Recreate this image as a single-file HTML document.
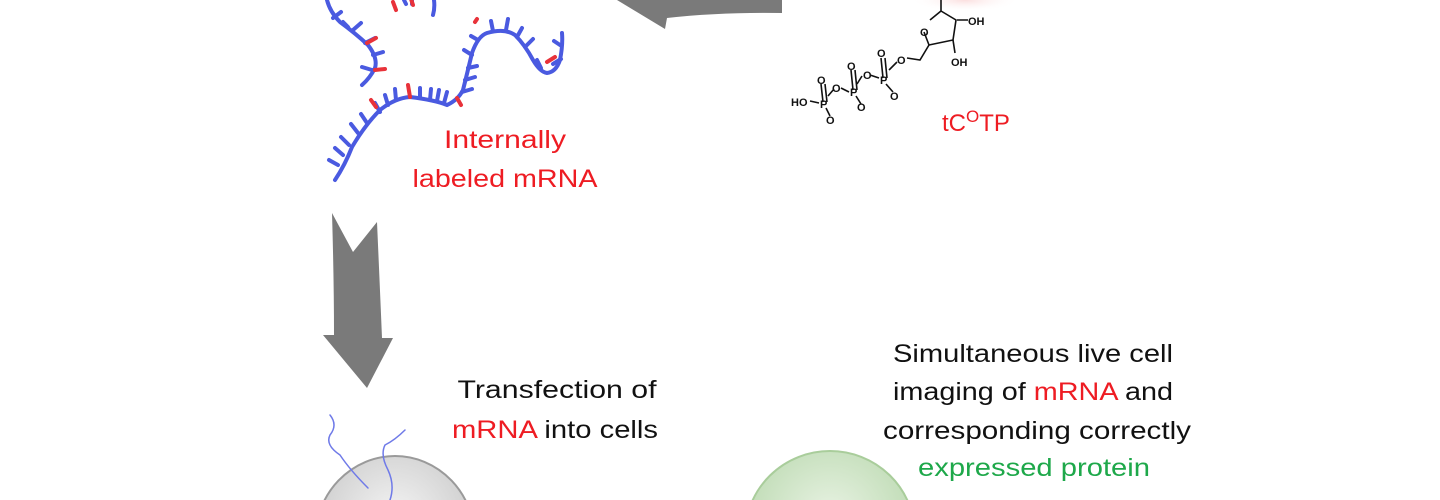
<!DOCTYPE html>
<html><head><meta charset="utf-8"><style>
html,body{margin:0;padding:0;background:#fff;width:1440px;height:500px;overflow:hidden}
svg{display:block}
text{font-family:"Liberation Sans",sans-serif}
</style></head><body>
<svg width="1440" height="500" viewBox="0 0 1440 500" xmlns="http://www.w3.org/2000/svg">
<defs>
<radialGradient id="gc" cx="50%" cy="40%" r="60%"><stop offset="0" stop-color="#e9f3e4"/><stop offset="1" stop-color="#b9d8ae"/></radialGradient>
<radialGradient id="wc" cx="50%" cy="40%" r="60%"><stop offset="0" stop-color="#f6f6f6"/><stop offset="1" stop-color="#c8c8c8"/></radialGradient>
<radialGradient id="pk" cx="50%" cy="50%" r="50%"><stop offset="0" stop-color="#fbdede"/><stop offset="1" stop-color="#fff" stop-opacity="0"/></radialGradient>
</defs>
<!-- top curved arrow -->
<path d="M617,0 L782,0 L782,13 Q720,12 667,18 L665,29 Z" fill="#7a7a7a"/>
<!-- down arrow -->
<path d="M332,213 L353,252 L377,222 Q380,290 382,338 L393,338 L367,388 L323,335 L334,335 Q334,280 332,213 Z" fill="#7a7a7a"/>
<!-- mRNA strand -->
<g stroke="#4a5ae0" stroke-width="4" fill="none" stroke-linecap="round">
<path d="M327,0 Q330,12 340,22 Q355,33 368,45 Q378,58 375,68 Q370,78 362,85"/>
<path d="M434,0 Q435,8 433,15"/>
<path d="M335,180 Q345,165 352,147 Q365,125 380,110 Q395,98 410,97 Q435,100 447,105 Q458,100 463,90 Q468,70 472,53 Q478,36 487,33 Q505,28 515,35 Q525,45 533,60 Q540,72 547,73 Q556,72 560,60 Q563,45 562,33"/>
<path d="M338,165 l-9,-5 M343,155 l-8,-7 M349,145 l-8,-8 M358,133 l-7,-9 M367,123 l-6,-9 M380,112 l-5,-9 M388,105 l-3,-10 M396,100 l-1,-11 M420,98 l0,-10 M430,100 l1,-11 M437,101 l2,-11 M444,103 l3,-11 M462,92 l10,-3 M465,80 l10,-3 M468,68 l9,-2 M472,55 l-8,-5 M478,40 l-7,-4 M493,31 l-2,-10 M506,30 l2,-11 M517,37 l5,-9 M525,47 l8,-8 M541,68 l-4,-8 M553,64 l8,-5 M560,45 l-6,-4 M333,18 l8,-6 M353,30 l8,-7 M365,43 l10,-5 M373,55 l10,-3 M372,70 l-10,-3 M348,27 l-5,-5"/>
<path d="M404,0 l2,4 M412,0 l0,4"/>
</g>
<g stroke="#e8323a" stroke-width="4" stroke-linecap="round">
<path d="M376,107 l-5,-7 M410,97 l-2,-12 M457,98 l4,7 M375,70 l10,-1 M367,43 l9,-5 M396,10 l-3,-8 M547,62 l8,-5 M475,22 l2,-3 M413,5 l-2,-6"/>
</g>
<text x="505" y="148" font-size="25" fill="#ee1c23" text-anchor="middle" textLength="122" lengthAdjust="spacingAndGlyphs">Internally</text>
<text x="505" y="187" font-size="25" fill="#ee1c23" text-anchor="middle" textLength="185" lengthAdjust="spacingAndGlyphs">labeled mRNA</text>
<!-- chemical -->
<ellipse cx="965" cy="0" rx="55" ry="12" fill="url(#pk)"/>
<g stroke="#111" stroke-width="1.6" fill="none">
<path d="M941,0 L941,11 M941,11 L956,20 L953,40 L929,45 L924,32 M941,11 L930,20"/>
<path d="M957,20 L968,20 M953,40 L955,53 M929,45 L920,60 L907,58"/>
<path d="M897,62 L889,70 M883,78 L881,58 M887,78 L885,58 M886,84 L893,92 M879,78 L870,75"/>
<path d="M862,76 L857,84 M853,90 L851,70 M857,90 L855,70 M856,96 L861,104 M849,92 L841,88"/>
<path d="M834,89 L828,96 M823,102 L821,84 M827,102 L825,84 M826,108 L830,116 M819,103 L810,101"/>
</g>
<g font-size="11" font-weight="bold" fill="#111">
<text x="968" y="25">OH</text><text x="951" y="66">OH</text><text x="920" y="36">O</text>
<text x="897" y="64">O</text><text x="880" y="84">P</text><text x="877" y="57">O</text><text x="890" y="100">O</text>
<text x="863" y="79">O</text><text x="850" y="96">P</text><text x="847" y="70">O</text><text x="857" y="111">O</text>
<text x="832" y="92">O</text><text x="820" y="108">P</text><text x="817" y="84">O</text><text x="826" y="124">O</text>
<text x="791" y="106">HO</text>
</g>
<text x="942" y="131" font-size="24" fill="#ee1c23">tC<tspan font-size="17" dy="-9">O</tspan><tspan dy="9">TP</tspan></text>
<!-- transfection text -->
<text x="557" y="398" font-size="25" fill="#111" text-anchor="middle" textLength="199" lengthAdjust="spacingAndGlyphs">Transfection of</text>
<text x="452" y="438" font-size="25" textLength="206" lengthAdjust="spacingAndGlyphs"><tspan fill="#ee1c23">mRNA</tspan><tspan fill="#111"> into cells</tspan></text>
<!-- right text -->
<text x="1033" y="362" font-size="25" fill="#111" text-anchor="middle" textLength="280" lengthAdjust="spacingAndGlyphs">Simultaneous live cell</text>
<text x="893" y="400" font-size="25" textLength="280" lengthAdjust="spacingAndGlyphs"><tspan fill="#111">imaging of </tspan><tspan fill="#ee1c23">mRNA</tspan><tspan fill="#111"> and</tspan></text>
<text x="1037" y="439" font-size="25" fill="#111" text-anchor="middle" textLength="308" lengthAdjust="spacingAndGlyphs">corresponding correctly</text>
<text x="1034" y="476" font-size="25" fill="#1ea84a" text-anchor="middle" textLength="232" lengthAdjust="spacingAndGlyphs">expressed protein</text>
<!-- cells -->
<ellipse cx="830" cy="535" rx="85" ry="84" fill="url(#gc)" stroke="#a9cd9b" stroke-width="2"/>
<ellipse cx="395" cy="540" rx="80" ry="84" fill="url(#wc)" stroke="#9a9a9a" stroke-width="2"/>
<g fill="none" stroke-width="1.5" stroke-linecap="round">
<path d="M330,415 Q338,425 330,435 Q325,445 340,455 Q350,470 368,488" stroke="#6f7ae8"/>
<path d="M405,430 Q395,440 385,445 Q380,455 388,470 Q395,485 390,500" stroke="#6f7ae8"/>
</g>
</svg>
</body></html>
